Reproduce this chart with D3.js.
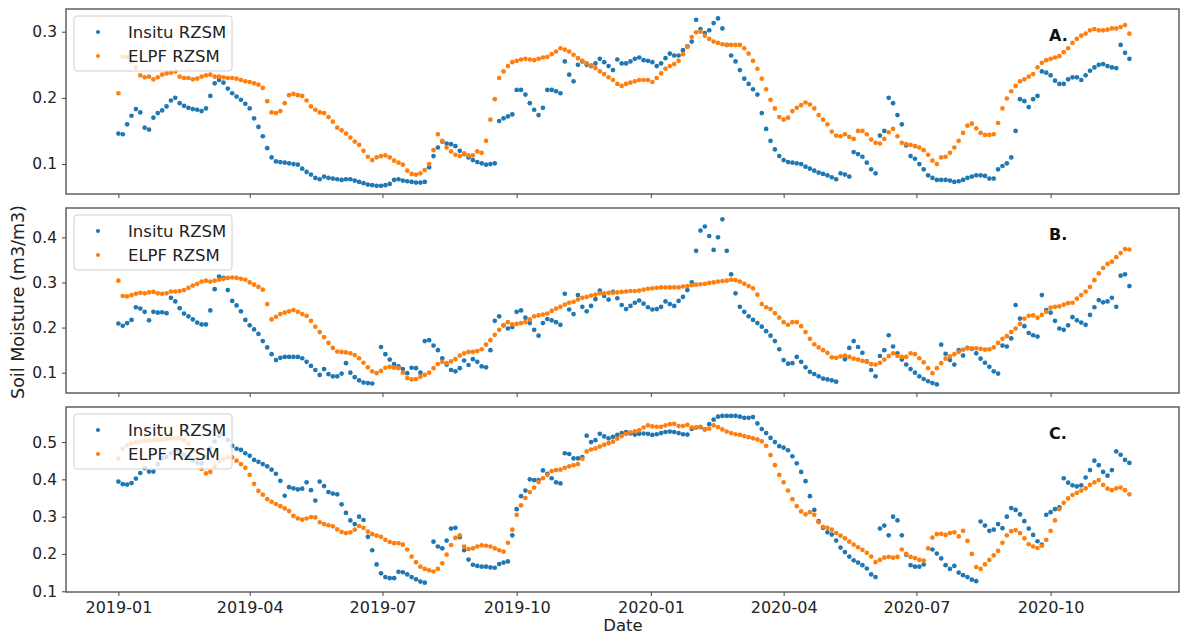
<!DOCTYPE html>
<html><head><meta charset="utf-8">
<script src="https://cdn.jsdelivr.net/npm/d3@7"></script>
<style>body{margin:0;background:#fff} svg{display:block;font-family:"DejaVu Sans",sans-serif}</style>
</head><body><svg id="c" width="1180" height="636"></svg>
<script>
// ---- data (soil moisture in 1e-3 m3/m3, one reading every 3 days from 2019-01-01) ----
const startDate = "2019-01-01";
const stepDays = 3;
const seriesNames = ["Insitu RZSM", "ELPF RZSM"];
const panelLabels = ["A.", "B.", "C."];
const xTickLabels = ["2019-01","2019-04","2019-07","2019-10","2020-01","2020-04","2020-07","2020-10"];
const yTicksA = [0.1, 0.2, 0.3];
const yTicksB = [0.1, 0.2, 0.3, 0.4];
const yTicksC = [0.1, 0.2, 0.3, 0.4, 0.5];

const insituA = [146,145,160,173,183,178,155,152,170,177,
181,187,196,200,192,188,185,183,182,180,
184,203,222,227,223,214,207,202,197,191,
184,169,156,142,124,110,104,103,102,101,
100,99,93,88,84,79,77,81,79,78,
77,76,77,77,75,73,71,69,68,67,
67,68,70,76,77,75,74,73,72,72,
73,95,112,125,134,131,130,127,120,115,
110,106,103,101,99,100,101,165,169,172,
175,212,212,205,192,182,174,185,212,212,
210,207,255,235,225,250,255,250,248,252,
259,254,248,242,258,252,252,255,259,261,
257,256,254,248,252,260,267,264,264,272,
278,285,318,304,298,302,313,320,305,280,
264,255,242,229,221,213,205,177,153,135,
122,112,106,103,102,101,100,96,93,90,
87,85,83,80,77,86,84,81,118,115,
111,102,92,86,143,150,200,192,174,160,
128,112,108,100,92,83,79,76,76,76,
75,73,74,76,79,81,83,83,82,78,
78,92,97,101,110,150,198,195,186,198,
203,240,238,234,226,221,221,228,231,231,
227,234,241,246,250,251,248,246,245,280,
268,259];
const elpfA = [207,262,262,254,246,234,231,232,228,231,
235,237,238,240,232,230,230,228,229,232,
234,235,232,232,231,230,230,229,227,225,
224,222,220,215,195,178,177,180,192,204,
206,204,203,196,187,182,178,177,171,164,
155,151,146,140,134,129,120,111,106,110,
112,113,110,105,102,99,90,85,84,86,
91,100,121,145,135,125,119,114,112,116,
113,113,119,117,135,167,198,230,240,248,
254,256,258,259,258,257,259,261,262,266,
270,275,273,270,265,260,256,252,249,245,
240,236,231,227,221,218,221,223,225,227,
227,227,224,230,237,244,248,251,256,266,
277,292,299,300,294,289,285,283,281,280,
280,280,280,275,267,256,244,229,213,197,
184,171,167,170,180,185,189,193,190,184,
174,167,160,149,143,142,145,141,138,150,
150,145,137,132,131,138,148,153,142,132,
130,129,127,125,121,114,105,100,110,111,
117,125,135,147,158,161,154,147,144,144,
145,162,184,199,210,218,225,228,232,236,
246,253,257,259,261,263,269,275,283,289,
294,297,302,304,302,302,303,305,305,307,
310,297];
const insituB = [209,204,210,217,245,242,235,216,235,233,
234,232,266,258,243,231,225,218,211,207,
207,238,285,313,310,283,259,249,236,217,
205,196,186,170,156,141,128,133,135,135,
135,135,132,124,115,106,95,108,97,92,
92,98,121,100,90,83,78,77,76,null,
157,141,129,119,114,108,99,111,110,100,
170,172,160,150,132,118,106,103,110,127,
117,130,124,114,112,150,215,225,205,198,
201,235,238,222,210,195,182,210,219,216,
212,206,275,240,230,272,246,236,248,263,
282,270,262,279,265,250,241,248,255,260,
253,245,240,241,246,258,252,248,259,268,
283,300,370,415,424,403,372,400,440,370,
318,276,246,235,225,217,210,202,192,182,
170,152,128,120,121,135,124,112,102,97,
92,87,85,83,80,null,130,155,170,157,
144,125,106,92,137,150,183,158,143,129,
118,108,100,92,86,81,77,74,162,142,
128,118,150,138,155,153,143,131,122,113,
103,98,160,158,176,250,220,203,188,183,
180,272,239,233,215,198,195,205,223,216,
211,206,228,245,261,256,258,266,246,315,
318,292];
const elpfB = [304,270,269,272,275,277,276,278,279,276,
275,276,280,280,281,283,288,293,297,302,
304,302,304,306,308,310,311,310,308,306,
300,295,290,284,252,218,224,230,233,236,
239,235,230,226,215,202,190,179,166,155,
147,146,145,143,139,132,122,112,103,99,
104,111,113,111,110,100,88,85,86,91,
95,100,110,119,124,121,125,130,138,143,
146,146,148,152,162,172,184,195,205,212,
207,208,210,212,218,225,227,229,231,237,
242,246,251,255,257,262,266,268,271,273,
276,276,277,277,278,279,280,281,281,282,
284,286,287,288,289,289,289,289,289,291,
292,294,295,296,297,299,300,302,303,304,
306,305,302,297,292,287,273,252,245,241,
232,222,212,206,212,212,203,190,175,163,
156,150,144,134,133,136,138,135,131,129,
126,124,119,118,122,129,137,143,137,135,
135,143,141,132,123,110,99,110,121,131,
136,141,146,151,154,154,154,153,151,152,
156,166,175,181,190,198,208,220,226,227,
222,228,235,244,246,247,251,254,255,264,
272,280,290,305,320,332,341,346,356,365,
374,373];
const insituC = [394,387,386,390,402,417,430,421,421,440,
456,460,470,478,472,466,461,450,445,443,
460,484,502,516,522,505,490,482,479,470,
463,452,447,441,435,426,415,396,356,379,
376,373,375,392,371,343,394,382,366,362,
360,333,310,290,280,300,291,246,210,172,
148,138,135,135,152,151,145,138,132,126,
123,null,233,220,215,236,268,270,245,210,
185,171,168,166,166,164,163,173,177,180,
250,320,355,370,400,398,398,424,415,403,
392,389,470,468,456,456,460,517,500,505,
522,515,510,514,519,524,527,523,520,522,
523,522,519,521,524,527,528,527,524,521,
520,535,539,540,534,548,560,568,570,570,
570,570,568,565,565,567,550,535,524,511,
500,489,485,478,462,443,420,395,355,318,
288,270,258,252,236,217,205,193,183,177,
170,161,145,138,268,276,250,300,290,250,
198,170,166,166,172,null,212,201,188,170,
160,168,150,143,138,131,127,287,276,262,
265,280,269,300,323,318,306,288,268,251,
234,225,305,312,320,325,403,391,384,381,
384,405,425,450,438,420,410,425,475,466,
452,444];
const elpfC = [456,482,492,496,499,501,503,504,505,505,
506,508,510,510,510,505,496,476,452,428,
416,420,435,449,455,459,459,450,441,431,
412,388,369,359,347,340,334,328,322,315,
302,295,292,295,299,298,285,280,277,274,
266,259,256,258,265,275,270,260,253,249,
246,238,232,229,229,225,212,193,178,166,
160,156,153,160,175,198,224,243,250,220,
213,215,220,223,222,220,215,210,206,230,
265,305,330,350,366,378,393,403,412,422,
425,426,431,435,438,441,455,475,480,483,
488,493,497,501,509,516,522,526,529,532,
539,545,542,541,541,545,548,549,543,543,
546,539,539,541,535,536,545,540,534,528,
524,521,519,516,513,510,507,502,490,465,
438,412,392,370,347,328,314,306,312,305,
285,273,270,265,256,249,242,233,225,218,
211,203,193,178,184,190,192,190,192,212,
200,192,189,184,182,215,244,253,254,251,
256,258,247,262,235,200,165,160,172,184,
196,208,230,250,261,264,256,242,226,220,
216,222,238,262,290,320,337,349,358,364,
370,376,385,392,398,385,375,371,376,378,
371,360];

// ---- layout ----
const W = 1180, H = 636;
const left = 66, right = 1179;
const colors = ["#1f77b4", "#ff7f0e"];
const panels = [
  {top: 9,   bottom: 194, domain: [0.0547, 0.3343], ticks: yTicksA, series: [insituA, elpfA], label: panelLabels[0]},
  {top: 208, bottom: 393, domain: [0.055, 0.465],   ticks: yTicksB, series: [insituB, elpfB], label: panelLabels[1]},
  {top: 407, bottom: 592, domain: [0.098, 0.594],   ticks: yTicksC, series: [insituC, elpfC], label: panelLabels[2]}
];

const parse = d3.utcParse("%Y-%m-%d");
const start = parse(startDate);
const parseMonth = d3.utcParse("%Y-%m");
const tickDates = xTickLabels.map(parseMonth);

const x = d3.scaleUtc()
  .domain([new Date(Date.UTC(2018, 10, 26, 2)), new Date(Date.UTC(2020, 11, 28))])
  .range([left, right]);

const svg = d3.select("#c");
svg.append("rect").attr("width", W).attr("height", H).attr("fill", "#fff");

panels.forEach((p, pi) => {
  const y = d3.scaleLinear().domain(p.domain).range([p.bottom, p.top]);
  const g = svg.append("g");
  const clipId = "clip" + pi;
  svg.append("clipPath").attr("id", clipId).append("rect")
    .attr("x", left).attr("y", p.top).attr("width", right - left).attr("height", p.bottom - p.top);

  const pts = g.append("g").attr("clip-path", `url(#${clipId})`);
  p.series.forEach((vals, si) => {
    const data = vals.map((v, i) => ({date: d3.utcDay.offset(start, i * stepDays), v: v == null ? null : v / 1000}))
      .filter(d => d.v != null);
    pts.append("g").selectAll("circle").data(data).join("circle")
      .attr("cx", d => x(d.date)).attr("cy", d => y(d.v)).attr("r", 2.35)
      .attr("fill", colors[si]);
  });

  // y axis
  const ya = g.append("g").attr("transform", `translate(${left},0)`)
    .call(d3.axisLeft(y).tickValues(p.ticks).tickFormat(d3.format(".1f")).tickSize(4).tickPadding(5).tickSizeOuter(0));
  ya.select(".domain").remove();
  ya.selectAll("line").attr("stroke", "#444");
  ya.selectAll("text").attr("font-size", 15.5).attr("fill", "#222").attr("font-family", "DejaVu Sans");

  // x axis
  const xa = g.append("g").attr("transform", `translate(0,${p.bottom})`)
    .call(d3.axisBottom(x).tickValues(tickDates).tickFormat(d3.utcFormat("%Y-%m")).tickSize(4).tickPadding(6).tickSizeOuter(0));
  xa.select(".domain").remove();
  xa.selectAll("line").attr("stroke", "#444");
  if (pi < 2) xa.selectAll("text").remove();
  else xa.selectAll("text").attr("font-size", 16).attr("fill", "#222").attr("font-family", "DejaVu Sans");

  // frame
  g.append("rect").attr("x", left).attr("y", p.top).attr("width", right - left).attr("height", p.bottom - p.top)
    .attr("fill", "none").attr("stroke", "#555").attr("stroke-width", 1.4);

  // legend
  const lg = g.append("g").attr("transform", `translate(74,${p.top + 7})`);
  lg.append("rect").attr("width", 158).attr("height", 55).attr("rx", 3)
    .attr("fill", "#fff").attr("fill-opacity", 0.8).attr("stroke", "#d0d0d0");
  seriesNames.forEach((name, si) => {
    const cy = 16 + si * 24;
    lg.append("circle").attr("cx", 24).attr("cy", cy).attr("r", 2.1).attr("fill", colors[si]);
    lg.append("text").attr("x", 54).attr("y", cy + 6).attr("font-size", 16.5).attr("fill", "#222").text(name);
  });

  // panel label
  g.append("text").attr("x", 1049).attr("y", p.top + 32).attr("font-size", 16).attr("font-weight", "bold")
    .attr("fill", "#111").text(p.label);
});

// axis titles
svg.append("text").attr("x", 623).attr("y", 631).attr("text-anchor", "middle")
  .attr("font-size", 16.5).attr("fill", "#222").text("Date");
svg.append("text").attr("transform", "translate(24,302) rotate(-90)").attr("text-anchor", "middle")
  .attr("font-size", 17.5).attr("fill", "#222").text("Soil Moisture (m3/m3)");
</script>
</body></html>
